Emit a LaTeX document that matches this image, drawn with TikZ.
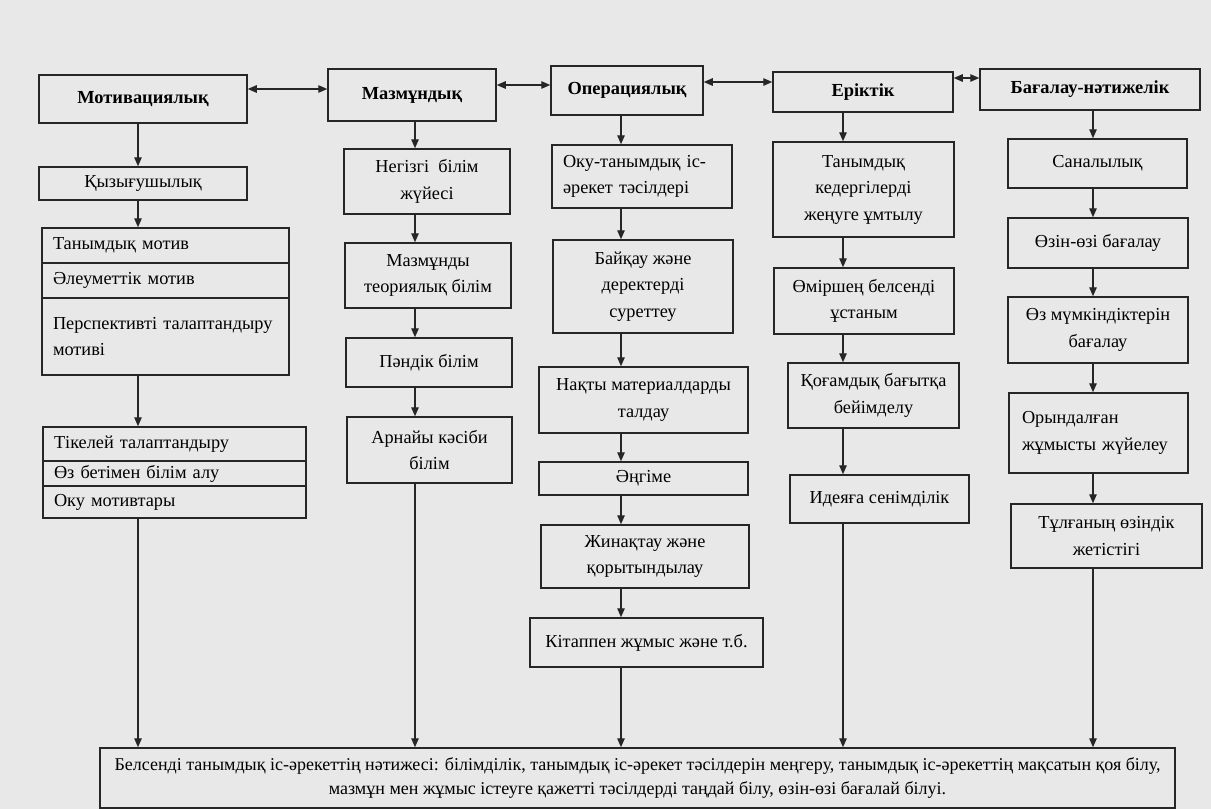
\documentclass[tikz,border=0pt]{standalone}
\usepackage{fontspec}
\setmainfont{Liberation Serif}
\usetikzlibrary{arrows.meta}
\begin{document}
\begin{tikzpicture}[x=1pt,y=-1pt,
  box/.style={draw=black!85, line width=1.5pt, inner sep=0pt, align=center, font=\fontsize{18.3}{26.5}\selectfont},
  lbox/.style={box, align=left},
  ttl/.style={box, font=\bfseries\fontsize{18.4}{22}\selectfont},
  resbox/.style={box, font=\fontsize{18}{24}\selectfont},
  arr/.style={draw=black!85, line width=1.3pt, -{Triangle[length=9pt,width=7.5pt]}},
  darr/.style={draw=black!85, line width=1.3pt, {Triangle[length=9pt,width=7.5pt]}-{Triangle[length=9pt,width=7.5pt]}}]
\fill[black!9] (0,0) rectangle (1211,809);
\useasboundingbox (0,0) rectangle (1211,809);
% x positions of vertical connectors
\coordinate (x1) at (138,0);
\coordinate (x2) at (415,0);
\coordinate (x3) at (621,0);
\coordinate (x4) at (843,0);
\coordinate (x5) at (1093,0);
% y positions of horizontal connectors
\coordinate (h1) at (0,89);
\coordinate (h2) at (0,85);
\coordinate (h3) at (0,82);
\coordinate (h4) at (0,78);
% column 1
\node[ttl, minimum width=208pt, minimum height=48pt] (mot) at (143,99) {Мотивациялық};
\node[box, minimum width=208pt, minimum height=33pt] (qyz) at (143,183.5) {Қызығушылық};
\node[lbox, text width=225pt, inner xsep=11pt, minimum height=35pt] (r1) at (165.5,245.5) {Танымдық мотив};
\node[lbox, text width=225pt, inner xsep=11pt, minimum height=35pt] (r2) at (165.5,280.5) {Әлеуметтік мотив};
\node[lbox, text width=225pt, inner xsep=11pt, minimum height=77pt] (r3) at (165.5,336.5) {Перспективті талаптандыру\\мотиві};
\node[lbox, text width=241pt, inner xsep=11pt, minimum height=34pt] (s1) at (174.5,444) {Тікелей талаптандыру};
\node[lbox, text width=241pt, inner xsep=11pt, minimum height=25pt] (s2) at (174.5,473.5) {Өз бетімен білім алу};
\node[lbox, text width=241pt, inner xsep=11pt, minimum height=32pt] (s3) at (174.5,502) {Оку мотивтары};
% column 2
\node[ttl, minimum width=168pt, minimum height=52pt] (maz) at (412,95) {Мазмұндық};
\node[box, minimum width=166pt, minimum height=65pt] (neg) at (427,181.5) {Негізгі\ \ білім\\жүйесі};
\node[box, minimum width=166pt, minimum height=65pt] (mzt) at (428,275.5) {Мазмұнды\\теориялық білім};
\node[box, minimum width=166pt, minimum height=49pt] (pan) at (429,362.5) {Пәндік білім};
\node[box, minimum width=165pt, minimum height=66pt] (arn) at (429.5,450) {Арнайы кәсіби\\білім};
% column 3
\node[ttl, minimum width=152pt, minimum height=49pt] (op) at (627,90.5) {Операциялық};
\node[lbox, text width=158pt, inner xsep=11pt, minimum height=63pt] (oqu) at (642,176.5) {Оку-танымдық іс-\\әрекет тәсілдері};
\node[box, minimum width=180pt, minimum height=93pt] (bai) at (643,286.5) {Байқау және\\деректерді\\суреттеу};
\node[box, minimum width=209pt, minimum height=66pt] (nak) at (643.5,400) {Нақты материалдарды\\талдау};
\node[box, minimum width=209pt, minimum height=33pt] (ang) at (643.5,478.5) {Әңгіме};
\node[box, minimum width=208pt, minimum height=63pt] (jin) at (645,556.5) {Жинақтау және\\қорытындылау};
\node[box, minimum width=233pt, minimum height=49pt] (kit) at (646.5,642.5) {Кітаппен жұмыс және т.б.};
% column 4
\node[ttl, minimum width=180pt, minimum height=40pt] (er) at (863,92) {Еріктік};
\node[box, minimum width=181pt, minimum height=95pt] (tan) at (863.5,189.5) {Танымдық\\кедергілерді\\жеңуге ұмтылу};
\node[box, minimum width=180pt, minimum height=66pt] (om) at (864,301) {Өміршең белсенді\\ұстаным};
\node[box, minimum width=171pt, minimum height=65pt] (qog) at (873.5,395.5) {Қоғамдық бағытқа\\бейімделу};
\node[box, minimum width=179pt, minimum height=48pt] (id) at (879.5,499) {Идеяға сенімділік};
% column 5
\node[ttl, minimum width=220pt, minimum height=41pt] (bag) at (1090,89.5) {Бағалау-нәтижелік};
\node[box, minimum width=179pt, minimum height=49pt] (san) at (1097.5,163.5) {Саналылық};
\node[box, minimum width=180pt, minimum height=50pt] (ozi) at (1098,243) {Өзін-өзі бағалау};
\node[box, minimum width=180pt, minimum height=66pt] (ozm) at (1098,330) {Өз мүмкіндіктерін\\бағалау};
\node[lbox, text width=153pt, inner xsep=13pt, minimum height=80pt] (ory) at (1098.5,433) {Орындалған\\жұмысты жүйелеу};
\node[box, minimum width=191pt, minimum height=64pt] (tul) at (1106.5,536) {Тұлғаның өзіндік\\жетістігі};
% result box
\node[resbox, minimum width=1075pt, minimum height=60pt] (res) at (637.5,778) {Белсенді танымдық іс-әрекеттің нәтижесі: білімділік, танымдық іс-әрекет тәсілдерін меңгеру, танымдық іс-әрекеттің мақсатын қоя білу,\\мазмұн мен жұмыс істеуге қажетті тәсілдерді таңдай білу, өзін-өзі бағалай білуі.};
% horizontal connectors
\draw[darr] (mot.east |- h1) -- (maz.west |- h1);
\draw[darr] (maz.east |- h2) -- (op.west |- h2);
\draw[darr] (op.east |- h3) -- (er.west |- h3);
\draw[darr] (er.east |- h4) -- (bag.west |- h4);
% column 1 connectors
\draw[arr] (mot.south -| x1) -- (qyz.north -| x1);
\draw[arr] (qyz.south -| x1) -- (r1.north -| x1);
\draw[arr] (r3.south -| x1) -- (s1.north -| x1);
\draw[arr] (s3.south -| x1) -- (res.north -| x1);
% column 2 connectors
\draw[arr] (maz.south -| x2) -- (neg.north -| x2);
\draw[arr] (neg.south -| x2) -- (mzt.north -| x2);
\draw[arr] (mzt.south -| x2) -- (pan.north -| x2);
\draw[arr] (pan.south -| x2) -- (arn.north -| x2);
\draw[arr] (arn.south -| x2) -- (res.north -| x2);
% column 3 connectors
\draw[arr] (op.south -| x3) -- (oqu.north -| x3);
\draw[arr] (oqu.south -| x3) -- (bai.north -| x3);
\draw[arr] (bai.south -| x3) -- (nak.north -| x3);
\draw[arr] (nak.south -| x3) -- (ang.north -| x3);
\draw[arr] (ang.south -| x3) -- (jin.north -| x3);
\draw[arr] (jin.south -| x3) -- (kit.north -| x3);
\draw[arr] (kit.south -| x3) -- (res.north -| x3);
% column 4 connectors
\draw[arr] (er.south -| x4) -- (tan.north -| x4);
\draw[arr] (tan.south -| x4) -- (om.north -| x4);
\draw[arr] (om.south -| x4) -- (qog.north -| x4);
\draw[arr] (qog.south -| x4) -- (id.north -| x4);
\draw[arr] (id.south -| x4) -- (res.north -| x4);
% column 5 connectors
\draw[arr] (bag.south -| x5) -- (san.north -| x5);
\draw[arr] (san.south -| x5) -- (ozi.north -| x5);
\draw[arr] (ozi.south -| x5) -- (ozm.north -| x5);
\draw[arr] (ozm.south -| x5) -- (ory.north -| x5);
\draw[arr] (ory.south -| x5) -- (tul.north -| x5);
\draw[arr] (tul.south -| x5) -- (res.north -| x5);
\end{tikzpicture}
\end{document}
